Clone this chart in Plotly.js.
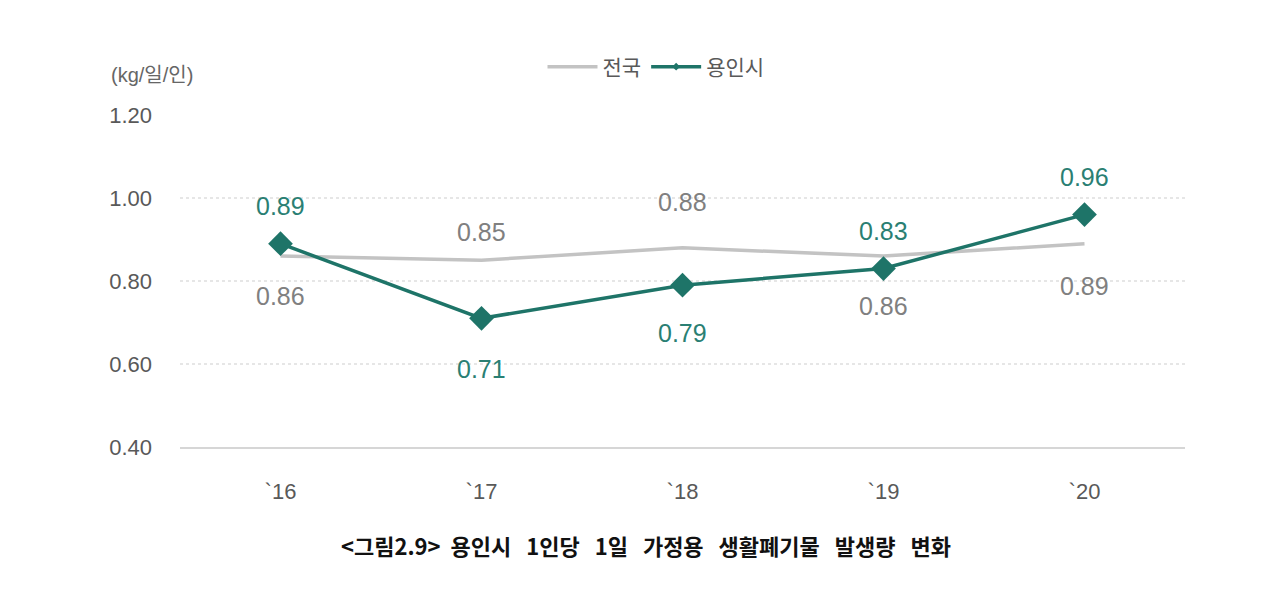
<!DOCTYPE html>
<html><head><meta charset="utf-8">
<script src="https://cdn.plot.ly/plotly-3.0.1.min.js"></script>
<style>html,body{margin:0;padding:0;background:#fff;}#chart{width:1280px;height:603px;}</style>
</head><body><div id="chart"></div>
<script>
const categories = ["`16", "`17", "`18", "`19", "`20"];
const nationalValues = [0.86, 0.85, 0.88, 0.86, 0.89];
const yonginValues = [0.89, 0.71, 0.79, 0.83, 0.96];
const seriesNames = ["전국", "용인시"];
const yTickValues = [0.40, 0.60, 0.80, 1.00, 1.20];
const unitLabel = "(kg/일/인)";
const captionText = "&lt;그림2.9&gt;  용인시   1인당   1일   가정용   생활폐기물   발생량   변화";

// label pixel offsets (style)
const nationalShift = [-40, 28, 46, -50, -42];
const yonginShift = [38, -51, -48, 38, 38];

const numFont = "Liberation Sans, Arial, Noto Sans CJK KR, sans-serif";
const gray = "#c3c3c3";
const teal = "#1e7468";

const annotations = [];
categories.forEach((c, i) => {
  annotations.push({x: c, y: nationalValues[i], xref: "x", yref: "y", text: nationalValues[i].toFixed(2),
    showarrow: false, yshift: nationalShift[i], font: {family: numFont, size: 25, color: "#808080"}});
  annotations.push({x: c, y: yonginValues[i], xref: "x", yref: "y", text: yonginValues[i].toFixed(2),
    showarrow: false, yshift: yonginShift[i], font: {family: numFont, size: 25, color: "#2a7f73"}});
});
annotations.push({x: (152 - 180) / 1005, y: (447 - 75) / 332, xref: "paper", yref: "paper", xanchor: "center", yanchor: "middle",
  text: unitLabel, showarrow: false, font: {family: numFont, size: 20, color: "#666"}});
annotations.push({x: (646 - 180) / 1005, y: 0, xref: "paper", yref: "paper", xanchor: "center", yanchor: "middle", yshift: -98,
  text: "<b>" + captionText + "</b>", showarrow: false, font: {family: "Noto Sans CJK KR, sans-serif", size: 22, color: "#111"}});

const traces = [
  {x: categories, y: nationalValues, name: seriesNames[0], type: "scatter", mode: "lines",
   line: {color: gray, width: 3.5}},
  {x: categories, y: yonginValues, name: seriesNames[1], type: "scatter", mode: "lines+markers", showlegend: false,
   line: {color: teal, width: 3.5}, marker: {symbol: "diamond", size: 19, color: teal}},
  {x: [categories[0]], y: [null], name: seriesNames[1], type: "scatter", mode: "lines+markers",
   line: {color: teal, width: 3.5}, marker: {symbol: "diamond", size: 6, color: teal}}
];

const layout = {
  width: 1280, height: 603,
  margin: {l: 180, r: 95, t: 115, b: 156},
  paper_bgcolor: "#fff", plot_bgcolor: "#fff",
  showlegend: true,
  legend: {orientation: "h", x: (656 - 180) / 1005, xanchor: "center", y: (447 - 67) / 332, yanchor: "middle", yref: "paper",
    font: {family: "Noto Sans CJK KR, sans-serif", size: 21, color: "#595959"}, itemwidth: 50, tracegroupgap: 0},
  xaxis: {type: "category", range: [-0.5, 4.5], showgrid: false, zeroline: false,
    showline: true, linecolor: "#d6d6d6", linewidth: 2, ticks: "", ticklabelstandoff: 24,
    tickfont: {family: numFont, size: 22, color: "#595959"}},
  yaxis: {range: [0.40, 1.20], tickvals: yTickValues, ticktext: yTickValues.map(v => v.toFixed(2)),
    showgrid: true, gridcolor: "#e6e6e6", griddash: "dot", gridwidth: 1.5, zeroline: false, showline: false,
    ticks: "", ticklabelstandoff: 27, tickfont: {family: numFont, size: 22, color: "#595959"}},
  annotations: annotations
};
Plotly.newPlot("chart", traces, layout, {displayModeBar: false, staticPlot: true});
</script></body></html>
